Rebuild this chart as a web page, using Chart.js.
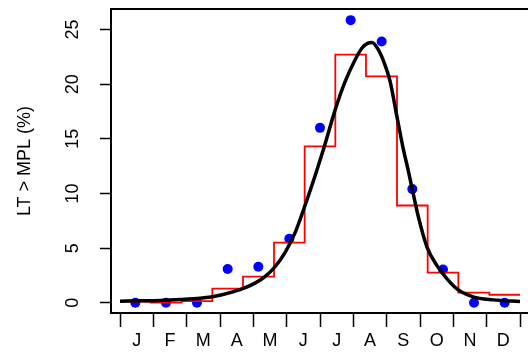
<!DOCTYPE html>
<html>
<head>
<meta charset="utf-8">
<script src="https://cdn.jsdelivr.net/npm/chart.js@4.4.1/dist/chart.umd.min.js"></script>
<style>
  html, body { margin: 0; padding: 0; background: #fff; overflow: hidden; }
  canvas { display: block; }
</style>
</head>
<body>
<canvas id="myChart" width="528" height="356"></canvas>
<script>
// month letters and axis ticks
var months = ['J', 'F', 'M', 'A', 'M', 'J', 'J', 'A', 'S', 'O', 'N', 'D'];
var yTicks = [0, 5, 10, 15, 20, 25];

// observed values (13 periods, position in months)
var obsX = [0.46, 1.38, 2.31, 3.23, 4.15, 5.08, 6.00, 6.92, 7.85, 8.77, 9.69, 10.62, 11.54];
var obsVal = [0, 0, 0, 3.1, 3.3, 5.85, 16.0, 25.85, 23.9, 10.4, 3.05, 0, 0];

// red step series: period start positions and levels
var stepX = [0, 0.92, 1.85, 2.77, 3.69, 4.62, 5.54, 6.46, 7.38, 8.31, 9.23, 10.15, 11.08, 12];
var stepVal = [0.12, 0.02, 0.15, 1.3, 2.4, 5.5, 14.3, 22.7, 20.7, 8.9, 2.77, 0.93, 0.74];

// black fitted curve
var curveX = [0, 0.6, 1.2, 1.8, 2.4, 3.0, 3.6, 4.05, 4.35, 4.65, 4.95, 5.25, 5.55, 5.85, 6.15, 6.45,
              6.75, 7.05, 7.26, 7.44, 7.56, 7.74, 7.92, 8.1, 8.31, 8.49, 8.64, 8.76, 8.94, 9.21,
              9.51, 9.81, 10.14, 10.59, 11.19, 12];
var curveVal = [0.15, 0.18, 0.22, 0.3, 0.42, 0.7, 1.2, 1.8, 2.4, 3.3, 4.6, 6.4, 8.9, 11.6, 14.5, 17.6,
                20.2, 22.2, 23.3, 23.75, 23.8, 23.2, 22.0, 20.3, 17.0, 14.2, 12.2, 10.5, 8.0, 5.1,
                3.4, 2.2, 1.2, 0.55, 0.27, 0.12];

function toXY(xs, ys) {
    return xs.map(function(x, i) {
        return { x: x, y: ys[Math.min(i, ys.length - 1)] };
    });
}

// tick marks at month borders, labels at month centres
var xTickVals = [];
for (var i = 0; i <= months.length; i++) {
    xTickVals.push(i);
    if (i < months.length) xTickVals.push(i + 0.5);
}

Chart.defaults.font.family = '"Liberation Sans", Arial, sans-serif';
Chart.defaults.font.size = 18;
Chart.defaults.color = '#000';

// top edge of the plot box
var boxTop = {
    id: 'boxTop',
    afterDraw: function(chart) {
        var a = chart.chartArea, ctx = chart.ctx;
        ctx.save();
        ctx.strokeStyle = '#000';
        ctx.lineWidth = 2;
        ctx.beginPath();
        ctx.moveTo(a.left - 1, a.top);
        ctx.lineTo(a.right + 2, a.top);
        ctx.stroke();
        ctx.restore();
    }
};

var ctx = document.getElementById('myChart').getContext('2d');
window.myChart = new Chart(ctx, {
    type: 'line',
    data: {
        datasets: [{
                label: 'fit',
                data: toXY(curveX, curveVal),
                borderColor: '#000',
                borderWidth: 3.5,
                pointRadius: 0,
                cubicInterpolationMode: 'monotone'
            },
            {
                label: 'step',
                data: toXY(stepX, stepVal),
                borderColor: '#ff0000',
                borderWidth: 1.8,
                pointRadius: 0,
                stepped: 'before'
            },
            {
                label: 'obs',
                data: toXY(obsX, obsVal),
                showLine: false,
                pointRadius: 5,
                pointBorderWidth: 0,
                pointBackgroundColor: '#0000ff',
                borderColor: '#0000ff'
            }
        ]
    },
    options: {
        responsive: false,
        animation: false,
        devicePixelRatio: 1,
        layout: { autoPadding: false, padding: { top: 9, right: 0, bottom: 0, left: 0 } },
        plugins: { legend: { display: false }, tooltip: { enabled: false } },
        scales: {
            x: {
                type: 'linear',
                min: -0.27,
                max: 12.24,
                afterBuildTicks: function(s) {
                    s.ticks = xTickVals.map(function(v) { return { value: v }; });
                },
                afterFit: function(s) {
                    s.height = 43;
                    s.paddingLeft = 0;
                    s.paddingRight = 0;
                },
                ticks: {
                    autoSkip: false,
                    maxRotation: 0,
                    minRotation: 0,
                    padding: 3,
                    callback: function(v) {
                        return v % 1 === 0.5 ? months[Math.floor(v)] : '';
                    }
                },
                grid: {
                    drawOnChartArea: false,
                    tickLength: 14,
                    tickWidth: 1.5,
                    tickColor: function(c) {
                        return c.tick && c.tick.value % 1 === 0 ? '#000' : 'rgba(0,0,0,0)';
                    }
                },
                border: { color: '#000', width: 2 }
            },
            y: {
                type: 'linear',
                min: -0.93,
                max: 26.87,
                afterBuildTicks: function(s) {
                    s.ticks = yTicks.map(function(v) { return { value: v }; });
                },
                afterFit: function(s) {
                    s.width = 111;
                    s.paddingTop = 0;
                    s.paddingBottom = 0;
                },
                ticks: {
                    minRotation: 90,
                    maxRotation: 90,
                    crossAlign: 'center',
                    padding: 17
                },
                grid: {
                    drawOnChartArea: false,
                    tickLength: 11,
                    tickWidth: 1.5,
                    tickColor: '#000'
                },
                border: { color: '#000', width: 2 },
                title: {
                    display: true,
                    text: 'LT > MPL (%)',
                    padding: { top: 14, bottom: 0 }
                }
            }
        }
    },
    plugins: [boxTop]
});
</script>
</body>
</html>
